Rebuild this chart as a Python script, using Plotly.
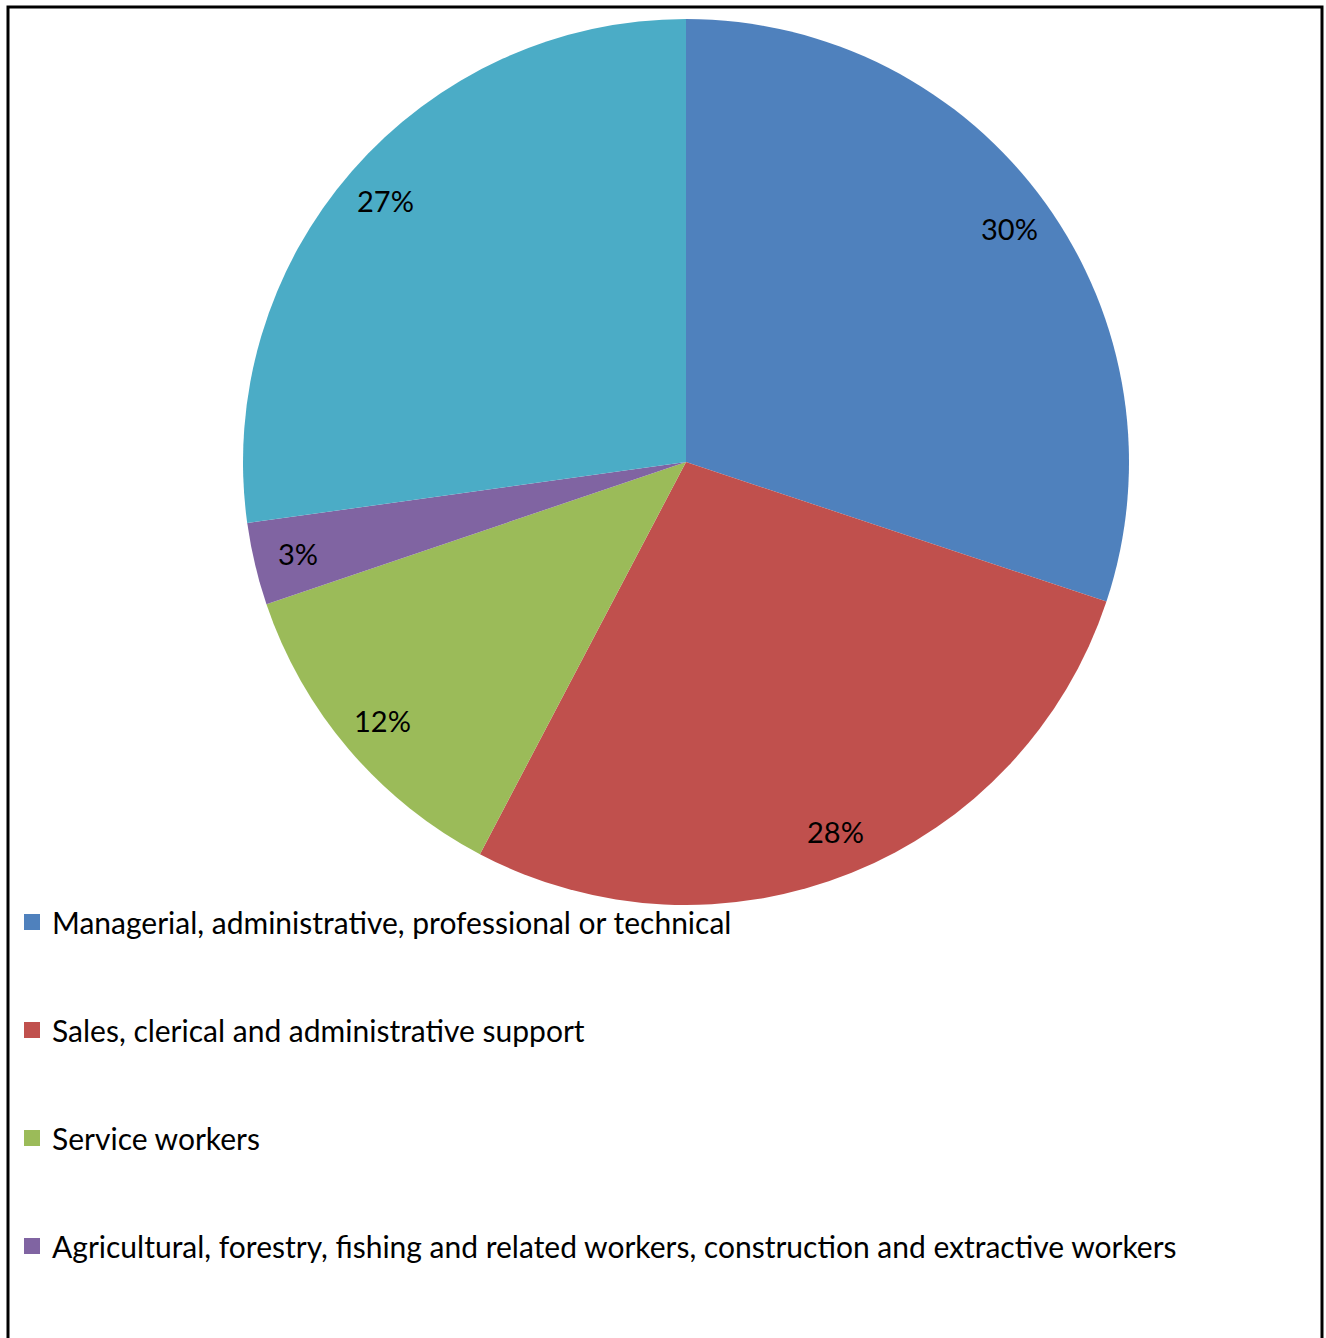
import math
import plotly.graph_objects as go

categories = [
    "Managerial, administrative, professional or technical",
    "Sales, clerical and administrative support",
    "Service workers",
    "Agricultural, forestry, fishing and related workers, construction and extractive workers",
    "Production, transportation and material moving workers",
]
shares = [30.1, 27.6, 12.1, 3.0, 27.2]
colors = ["#4F81BD", "#C0504D", "#9BBB59", "#8064A2", "#4BACC6"]
legend_count = 4  # only the first four legend entries are visible in the frame

W, H = 1326, 1338
cx, cy, R = 686, 462, 443  # pixel geometry of the pie
FONT = "Lato"

fig = go.Figure()
fig.add_trace(go.Pie(
    labels=categories, values=shares, sort=False, direction="clockwise", rotation=0,
    marker=dict(colors=colors, line=dict(width=0)),
    textinfo="none", showlegend=False, hoverinfo="label+percent",
    domain=dict(x=[(cx - R) / W, (cx + R) / W], y=[1 - (cy + R) / H, 1 - (cy - R) / H]),
))

# legend entries via dummy traces
for i in range(legend_count):
    fig.add_trace(go.Scatter(
        x=[None], y=[None], mode="markers", name=categories[i],
        marker=dict(symbol="square", size=18, color=colors[i]),
        legendgroup=f"g{i}", showlegend=True,
    ))

# percentage labels at 0.9 radius on each slice's mid-angle
total = sum(shares)
cum = 0.0
for v in shares:
    mid = (cum + v / 2) / total * 2 * math.pi
    cum += v
    px = cx + 0.9 * R * math.sin(mid)
    py = cy - 0.9 * R * math.cos(mid)
    fig.add_annotation(
        x=px / W, y=1 - py / H, xref="paper", yref="paper",
        xanchor="center", yanchor="middle",
        text=f"{round(v / total * 100)}%", showarrow=False,
        font=dict(family=FONT, size=29, color="black"),
    )

fig.add_shape(type="rect", xref="paper", yref="paper",
              x0=8 / W, x1=1322 / W, y0=-0.05, y1=1 - 7 / H,
              line=dict(color="black", width=3))

fig.update_layout(
    width=W, height=H, margin=dict(l=0, r=0, t=0, b=0),
    paper_bgcolor="white", plot_bgcolor="white",
    xaxis=dict(visible=False), yaxis=dict(visible=False),
    legend=dict(x=12 / W, y=1 - 896 / H, xanchor="left", yanchor="top",
                font=dict(family=FONT, size=30, color="black"),
                tracegroupgap=66, bgcolor="rgba(0,0,0,0)"),
    font=dict(family=FONT),
)

fig.write_html("out.html")
